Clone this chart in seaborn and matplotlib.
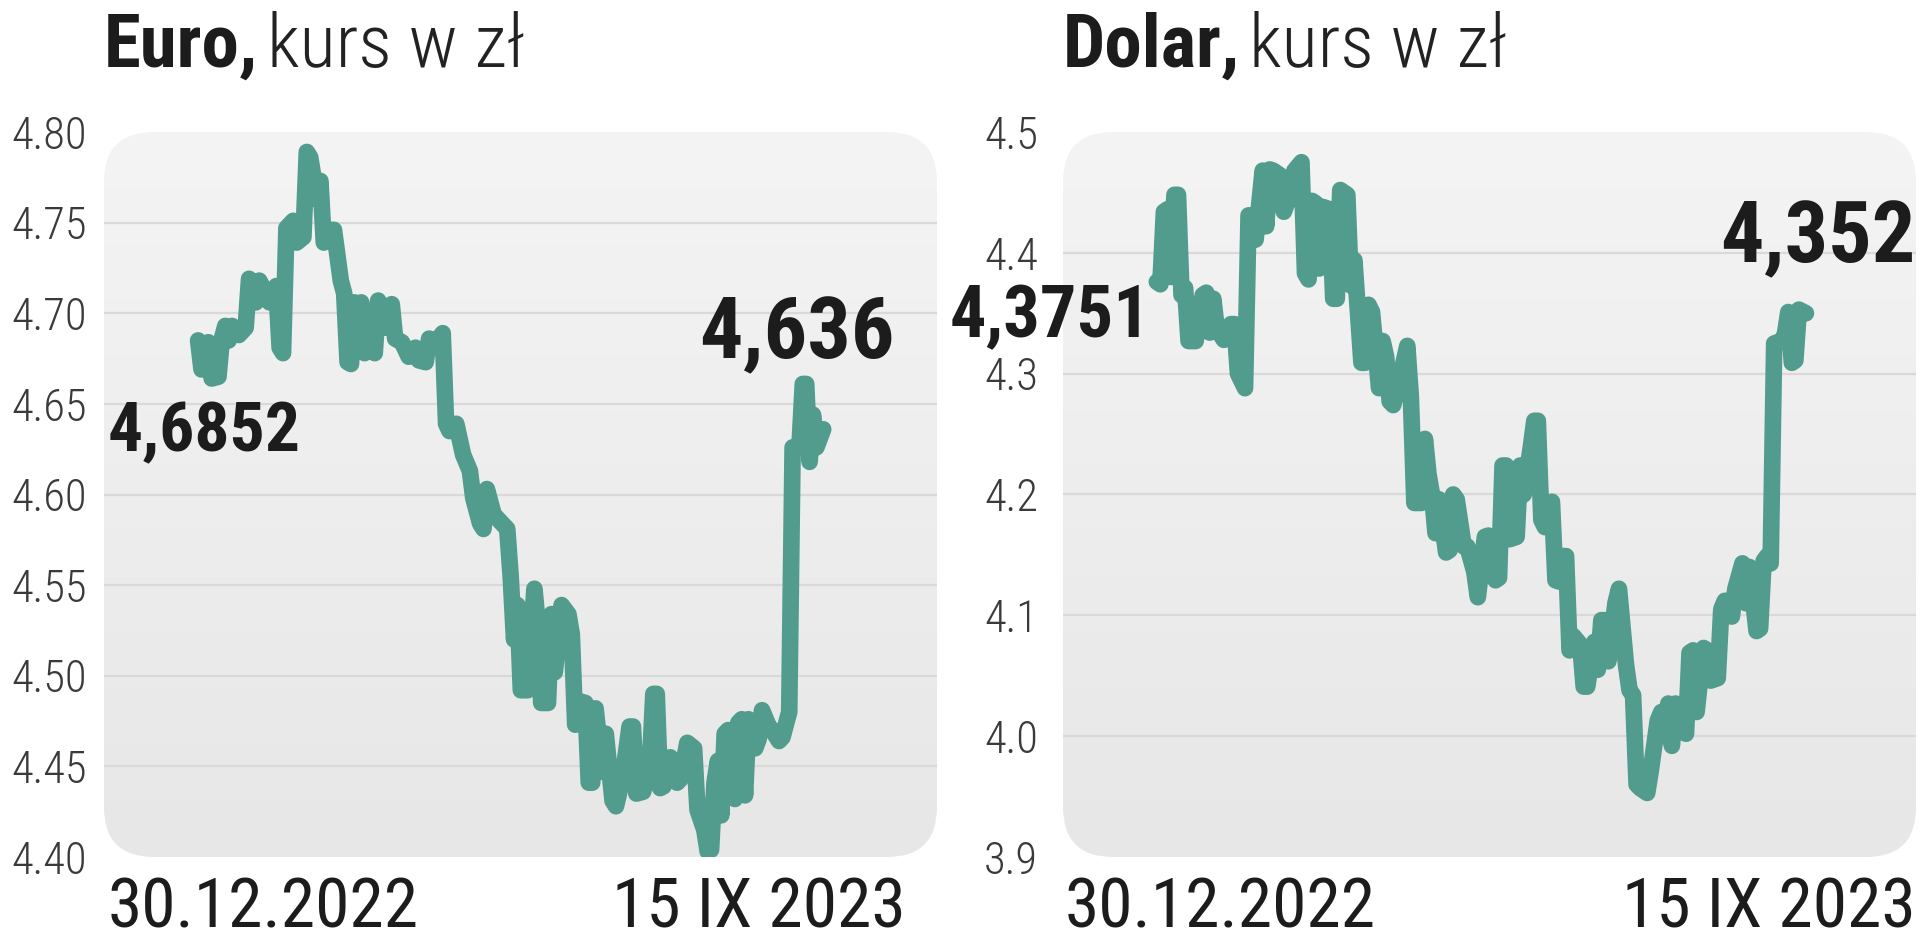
import numpy as np
import matplotlib
matplotlib.use("Agg")
import matplotlib.pyplot as plt
import seaborn as sns
from matplotlib import font_manager
from matplotlib.patches import FancyBboxPatch
from matplotlib.colors import LinearSegmentedColormap

# ---- data (trading day index since 30.12.2022, rate in PLN) ----
eur_day = [0, 1, 3, 4, 6, 7, 8, 9, 10, 12, 14, 15, 16, 17, 18, 20, 21, 23, 24, 25,
           26, 28, 29, 31, 32, 33, 35, 36, 37, 39, 40, 42, 43, 44, 45, 46, 47, 48, 49, 50,
           52, 53, 54, 55, 57, 58, 60, 62, 64, 65, 67, 68, 70, 72, 73, 74, 76, 78, 80, 81,
           83, 84, 85, 87, 89, 91, 92, 93, 94, 95, 97, 99, 100, 101, 103, 104, 105, 107, 109, 110,
           111, 112, 114, 115, 116, 117, 119, 120, 122, 123, 125, 127, 128, 129, 131, 133, 134, 135, 136, 137,
           139, 141, 142, 144, 146, 147, 149, 150, 151, 152, 153, 154, 155, 156, 158, 159, 160, 161, 162, 164,
           165, 166, 168, 169, 171, 172, 174, 175, 177, 178, 179, 180, 181, 182, 184]
eur_rate = [4.685, 4.669, 4.684, 4.664, 4.665, 4.686, 4.693, 4.685, 4.693, 4.688, 4.692, 4.719, 4.717, 4.706, 4.718, 4.711, 4.706, 4.715, 4.681, 4.678,
            4.747, 4.751, 4.739, 4.742, 4.789, 4.786, 4.763, 4.773, 4.739, 4.746, 4.746, 4.718, 4.711, 4.673, 4.672, 4.706, 4.686, 4.706, 4.678, 4.681,
            4.678, 4.707, 4.703, 4.692, 4.705, 4.686, 4.684, 4.676, 4.681, 4.674, 4.673, 4.686, 4.684, 4.689, 4.639, 4.635, 4.639, 4.622, 4.613, 4.598,
            4.584, 4.581, 4.603, 4.589, 4.585, 4.581, 4.555, 4.520, 4.539, 4.492, 4.492, 4.548, 4.528, 4.485, 4.485, 4.534, 4.502, 4.539, 4.534, 4.523,
            4.473, 4.486, 4.485, 4.441, 4.441, 4.482, 4.447, 4.468, 4.431, 4.428, 4.444, 4.472, 4.472, 4.435, 4.436, 4.452, 4.490, 4.490, 4.438, 4.439,
            4.455, 4.441, 4.443, 4.463, 4.460, 4.426, 4.415, 4.403, 4.404, 4.441, 4.453, 4.423, 4.468, 4.470, 4.432, 4.474, 4.476, 4.434, 4.476, 4.460,
            4.465, 4.481, 4.472, 4.470, 4.464, 4.466, 4.480, 4.626, 4.626, 4.661, 4.661, 4.618, 4.644, 4.626, 4.636]

usd_day = [0, 1, 2, 3, 4, 5, 6, 7, 8, 9, 11, 13, 14, 15, 16, 17, 19, 21, 22, 23,
           25, 26, 27, 28, 30, 31, 32, 33, 35, 36, 38, 39, 41, 42, 43, 44, 45, 46, 47, 49,
           50, 51, 52, 54, 55, 56, 58, 59, 60, 61, 63, 64, 65, 66, 67, 69, 71, 72, 73, 75,
           76, 77, 78, 79, 80, 82, 83, 84, 85, 87, 88, 90, 91, 93, 94, 96, 97, 98, 99, 100,
           102, 103, 104, 106, 107, 108, 109, 110, 112, 113, 114, 115, 116, 117, 118, 120, 121, 122, 124, 125,
           126, 127, 128, 130, 131, 133, 134, 135, 136, 137, 139, 140, 142, 143, 144, 145, 146, 147, 149, 150,
           151, 152, 153, 155, 156, 157, 159, 160, 161, 163, 164, 166, 167, 168, 170, 171, 172, 173, 174, 175,
           177, 178, 179, 180, 181, 182, 184]
usd_rate = [4.376, 4.374, 4.434, 4.436, 4.380, 4.448, 4.448, 4.365, 4.371, 4.327, 4.327, 4.365, 4.367, 4.334, 4.362, 4.337, 4.328, 4.341, 4.341, 4.300,
            4.288, 4.431, 4.431, 4.411, 4.468, 4.422, 4.469, 4.468, 4.464, 4.434, 4.450, 4.468, 4.475, 4.383, 4.378, 4.443, 4.441, 4.387, 4.438, 4.436,
            4.362, 4.362, 4.452, 4.448, 4.373, 4.394, 4.309, 4.309, 4.357, 4.351, 4.288, 4.327, 4.314, 4.277, 4.274, 4.297, 4.323, 4.281, 4.193, 4.193,
            4.246, 4.217, 4.200, 4.168, 4.196, 4.152, 4.154, 4.200, 4.196, 4.157, 4.157, 4.136, 4.115, 4.165, 4.166, 4.129, 4.131, 4.224, 4.224, 4.163,
            4.165, 4.224, 4.200, 4.239, 4.261, 4.261, 4.179, 4.173, 4.194, 4.129, 4.128, 4.149, 4.149, 4.071, 4.083, 4.076, 4.041, 4.041, 4.078, 4.055,
            4.096, 4.096, 4.062, 4.110, 4.122, 4.059, 4.038, 4.034, 3.960, 3.957, 3.953, 3.971, 4.013, 4.020, 4.006, 4.027, 3.992, 4.027, 4.004, 4.002,
            4.069, 4.071, 4.020, 4.073, 4.071, 4.046, 4.048, 4.105, 4.112, 4.099, 4.122, 4.143, 4.110, 4.140, 4.087, 4.089, 4.145, 4.149, 4.143, 4.325,
            4.327, 4.332, 4.351, 4.309, 4.311, 4.353, 4.350]

eur_ticks = [4.40, 4.45, 4.50, 4.55, 4.60, 4.65, 4.70, 4.75, 4.80]
usd_ticks = [3.9, 4.0, 4.1, 4.2, 4.3, 4.4, 4.5]

start_label = "30.12.2022"
end_label = "15 IX 2023"
eur_first, eur_last = "4,6852", "4,636"
usd_first, usd_last = "4,3751", "4,352"

# ---- style ----
sns.set_theme(style="white")
names = {f.name for f in font_manager.fontManager.ttflist}
narrow = next((n for n in ["Roboto Condensed", "Liberation Sans Narrow", "DejaVu Sans"] if n in names), "DejaVu Sans")
plt.rcParams["font.family"] = [narrow, "DejaVu Sans"]

LINE = "#529c8e"
INK = "#1c1c1c"
W, H = 1920, 938

fig = plt.figure(figsize=(19.2, 9.38), dpi=100)
bg_cmap = LinearSegmentedColormap.from_list("bg", ["#e7e7e7", "#f4f4f4"])


def panel(x0, x1, days, rates, ticks, fmt, xlim, pad):
    top, bottom = 132, 857
    ax = fig.add_axes([x0 / W, 1 - bottom / H, (x1 - x0) / W, (bottom - top) / H])
    wpx, hpx = x1 - x0, bottom - top
    box = FancyBboxPatch((0, 0), 1, 1, boxstyle=f"round,pad=0,rounding_size={50 / wpx}",
                         mutation_aspect=wpx / hpx, transform=ax.transAxes,
                         facecolor="none", edgecolor="none", zorder=0)
    ax.add_patch(box)
    grad = np.linspace(0, 1, 256).reshape(-1, 1)
    img = ax.imshow(grad, extent=(0, 1, 0, 1), transform=ax.transAxes, origin="lower",
                    aspect="auto", cmap=bg_cmap, zorder=0, interpolation="bilinear")
    img.set_clip_path(box)
    for v in ticks[1:-1]:
        ax.axhline(v, color="#d9d9d9", lw=1.6, zorder=1)
    sns.lineplot(x=days, y=rates, ax=ax, color=LINE, lw=12, zorder=3,
                 solid_capstyle="round", solid_joinstyle="round")
    ax.set_xlim(*xlim)
    ax.set_ylim(ticks[0], ticks[-1])
    ax.set_yticks(ticks)
    ax.set_yticklabels([fmt.format(v) for v in ticks], fontweight="light")
    ax.set_xticks([])
    ax.tick_params(axis="y", length=0, pad=pad, labelsize=32, labelcolor="#3a3a3a")
    ax.patch.set_visible(False)
    for s in ax.spines.values():
        s.set_visible(False)
    ax.set_xlabel("")
    ax.set_ylabel("")
    return ax


ax1 = panel(104, 937, eur_day, eur_rate, eur_ticks, "{:.2f}", (-27.7, 217.5), 12)
ax2 = panel(1063, 1916, usd_day, usd_rate, usd_ticks, "{:.1f}", (-26.6, 215.2), 18)

# value labels
ax1.text(-26.5, 4.624, eur_first, ha="left", va="baseline", fontsize=50, fontweight="bold", color=INK)
ax1.text(204.9, 4.675, eur_last, ha="right", va="baseline", fontsize=62, fontweight="bold", color=INK)
ax2.text(-1.7, 4.330, usd_first, ha="right", va="baseline", fontsize=52, fontweight="bold", color=INK)
ax2.text(215.2, 4.392, usd_last, ha="right", va="baseline", fontsize=62, fontweight="bold", color=INK)

# titles
renderer = fig.canvas.get_renderer()
for x, name in [(104, "Euro,"), (1063, "Dolar,")]:
    t = fig.text(x / W, 1 - 67 / H, name, fontsize=54, fontweight="bold", color=INK, va="baseline")
    bb = t.get_window_extent(renderer)
    fig.text((bb.x1 + 9) / W, 1 - 67 / H, "kurs w zł", fontsize=54, fontweight="light",
             color="#222222", va="baseline")

# date labels under each panel
for x_left, x_right in [(108, 906), (1065, 1916)]:
    fig.text(x_left / W, 11 / H, start_label, fontsize=50, color=INK, ha="left", va="baseline")
    fig.text(x_right / W, 11 / H, end_label, fontsize=50, color=INK, ha="right", va="baseline")

fig.savefig("out.png", dpi=100)
